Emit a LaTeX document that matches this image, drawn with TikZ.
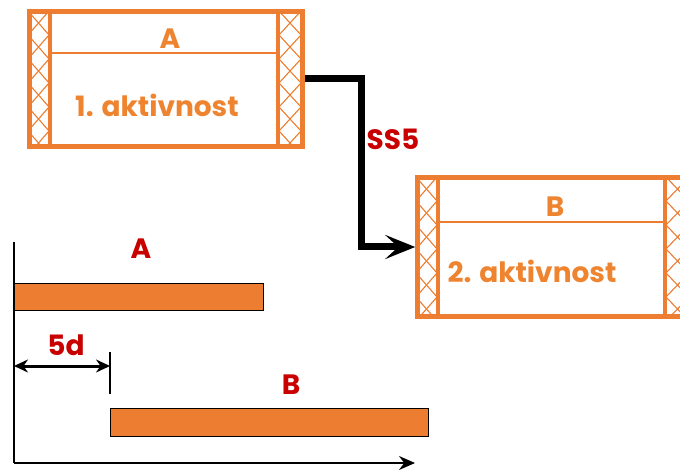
\documentclass[tikz,border=0pt]{standalone}
\usepackage{fontspec}
\newfontfamily\labfont{Poppins}
\usetikzlibrary{arrows.meta,calc}
\definecolor{boxorange}{HTML}{ED7D31}
\definecolor{txtorange}{HTML}{EE8430}
\definecolor{labred}{HTML}{C80000}
\tikzset{
  hatch/.style={draw=boxorange,line width=1.1pt},
  outerbox/.style={draw=boxorange,line width=4.5pt,inner sep=0pt,outer sep=2.25pt,fill=white},
  colline/.style={draw=boxorange,line width=3.2pt},
  divline/.style={draw=boxorange,line width=1.1pt},
  lab/.style={font=\labfont\bfseries\fontsize{28}{32}\selectfont,inner sep=0pt},
  boxtext/.style={lab,text=txtorange},
  redtext/.style={lab,text=labred},
  conn/.style={draw=black,line width=7pt,-{Stealth[length=30pt,width=24pt,inset=13pt]}},
  bar/.style={draw=black,line width=1.2pt,fill=boxorange,inner sep=0pt,anchor=north west},
  axis/.style={draw=black,line width=1.6pt},
}
\newcommand\hatchcol[4]{%
  \begin{scope}
    \clip (#1,#3) rectangle (#2,#4);
    \foreach \k in {0,...,6}{
      \draw[hatch] (#1,{#3+\k*24}) -- (#2,{#3+(\k+1)*24});
      \draw[hatch] (#2,{#3+\k*24}) -- (#1,{#3+(\k+1)*24});
    }
  \end{scope}}
\begin{document}
\begin{tikzpicture}[x=1pt,y=-1pt]
\useasboundingbox (0,0) rectangle (680,470);
% box A
\node[outerbox,minimum width=273pt,minimum height=135pt,anchor=north west] (A) at (27.25,9.25) {};
\hatchcol{28}{49}{11}{145}
\hatchcol{279}{301}{11}{145}
\draw[colline] (50,9) -- (50,145);
\draw[colline] (278,9) -- (278,145);
\draw[divline] (50,53) -- (278,53);
\node[boxtext] (At) at (170,39) {A};
\node[boxtext] (Aa) at (157,105) {1. aktivnost};
% box B
\node[outerbox,minimum width=275pt,minimum height=139pt,anchor=north west] (B) at (415.25,175.25) {};
\hatchcol{416}{437}{177}{315}
\hatchcol{666}{689}{177}{315}
\draw[colline] (438,175) -- (438,315);
\draw[colline] (665,175) -- (665,315);
\draw[divline] (438,222) -- (665,222);
\node[boxtext] (Bt) at (555,207) {B};
\node[boxtext] (Ba) at (532,271) {2. aktivnost};
% connector
\draw[conn] (A.east) -- ++(57,0) |- (B.west);
\node[redtext] (ss) at (393,139) {SS5};
% gantt
\coordinate (top) at (14,242);
\coordinate (O) at (14,463);
\coordinate (xend) at (415,463);
\draw[axis] (top) -- (O);
\draw[axis,-{Stealth[length=16pt,width=14pt]}] (O) -- (xend);
\node[bar,minimum width=249pt,minimum height=27pt] (barA) at (14,283) {};
\node[bar,minimum width=318pt,minimum height=28pt] (barB) at (110,408) {};
\coordinate (d1) at (14,366);
\coordinate (d2) at (110,366);
\coordinate (t1) at (110,352);
\coordinate (t2) at (110,394);
\draw[axis] (t1) -- (t2);
\draw[line width=3pt,{Stealth[length=14pt,width=13pt]}-{Stealth[length=14pt,width=13pt]}] (d1) -- (d2);
\node[redtext] (la) at (141,249) {A};
\node[redtext] (lb) at (291,385) {B};
\node[redtext] (ld) at (66,345) {5d};
\end{tikzpicture}
\end{document}
